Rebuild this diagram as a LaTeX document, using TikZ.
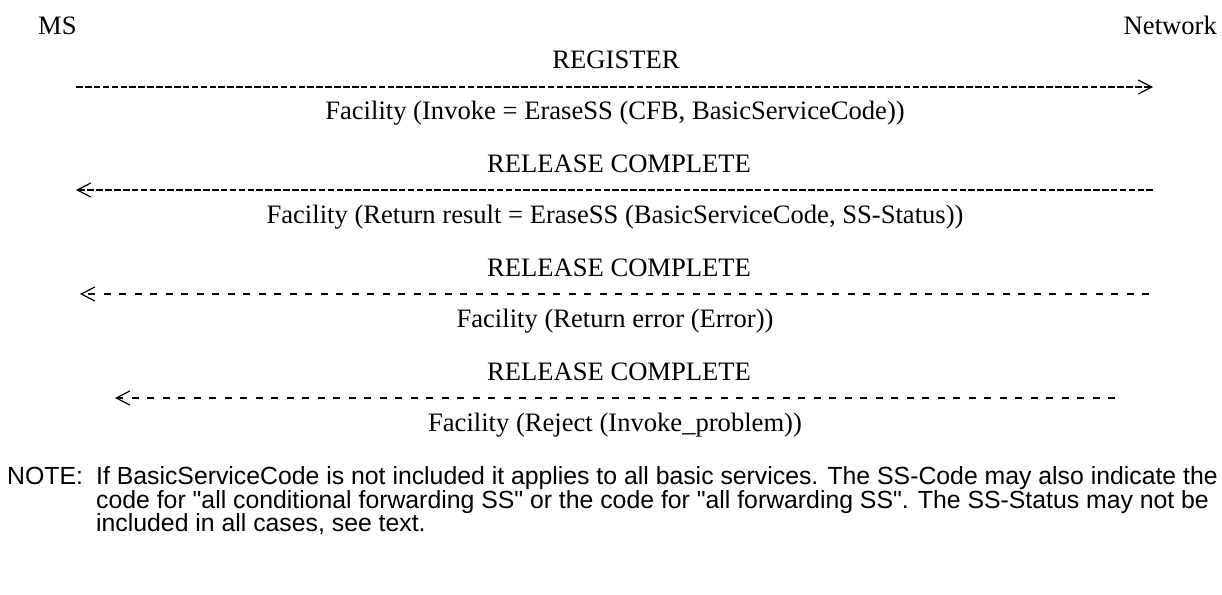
\documentclass[tikz,border=0pt]{standalone}
\usepackage{fontspec}
\setmainfont{Liberation Serif}
\newfontfamily\notefont{Liberation Sans}
\usetikzlibrary{arrows.meta}
\begin{document}
\begin{tikzpicture}[x=1pt,y=-1pt,
  lbl/.style={font=\fontsize{26.6}{30}\selectfont, inner sep=0pt, anchor=base},
  note/.style={font=\notefont\fontsize{24.8}{28}\selectfont, inner sep=0pt, anchor=base west},
  tipglyph/.style={-{Straight Barb[length=13.5pt,width=14pt,line width=1.2pt]}},
  solidmsg/.style={line width=1.6pt, dash pattern=on 6.6pt off 2.3pt, tipglyph},
  spacedmsg/.style={line width=1.6pt, dash pattern=on 6.6pt off 8.9pt, tipglyph}
]
\useasboundingbox (0,0) rectangle (1222,594);

\node[lbl, anchor=base west] (ms) at (38,35) {MS};
\node[lbl, anchor=base east] (nw) at (1217,35) {Network};

% message 1
\node[lbl] (reg) at (616,68) {REGISTER};
\coordinate (a1s) at (76,87);
\coordinate (a1e) at (1153,87);
\draw[solidmsg] (a1s) -- (a1e);
\node[lbl] (f1) at (615,119) {Facility (Invoke = EraseSS (CFB, BasicServiceCode))};

% message 2
\node[lbl] (rc1) at (619,172) {RELEASE COMPLETE};
\coordinate (a2s) at (1153,190);
\coordinate (a2e) at (76,190);
\draw[solidmsg] (a2s) -- (a2e);
\node[lbl] (f2) at (615,223) {Facility (Return result = EraseSS (BasicServiceCode, SS-Status))};

% message 3
\node[lbl] (rc2) at (619,276) {RELEASE COMPLETE};
\coordinate (a3s) at (1149,294);
\coordinate (a3e) at (80,294);
\draw[spacedmsg] (a3s) -- (a3e);
\node[lbl] (f3) at (615,327) {Facility (Return error (Error))};

% message 4
\node[lbl] (rc3) at (619,380) {RELEASE COMPLETE};
\coordinate (a4s) at (1115,398);
\coordinate (a4e) at (115,398);
\draw[spacedmsg] (a4s) -- (a4e);
\node[lbl] (f4) at (615,431) {Facility (Reject (Invoke\_problem))};

% note
\node[note] (nl) at (7,484) {NOTE:};
\node[note] (n1) at (96,484) {If BasicServiceCode is not included it applies to all basic services. The SS-Code may also indicate the};
\node[note] (n2) at (96,508) {code for "all conditional forwarding SS" or the code for "all forwarding SS". The SS-Status may not be};
\node[note] (n3) at (96,531) {included in all cases, see text.};
\end{tikzpicture}
\end{document}
